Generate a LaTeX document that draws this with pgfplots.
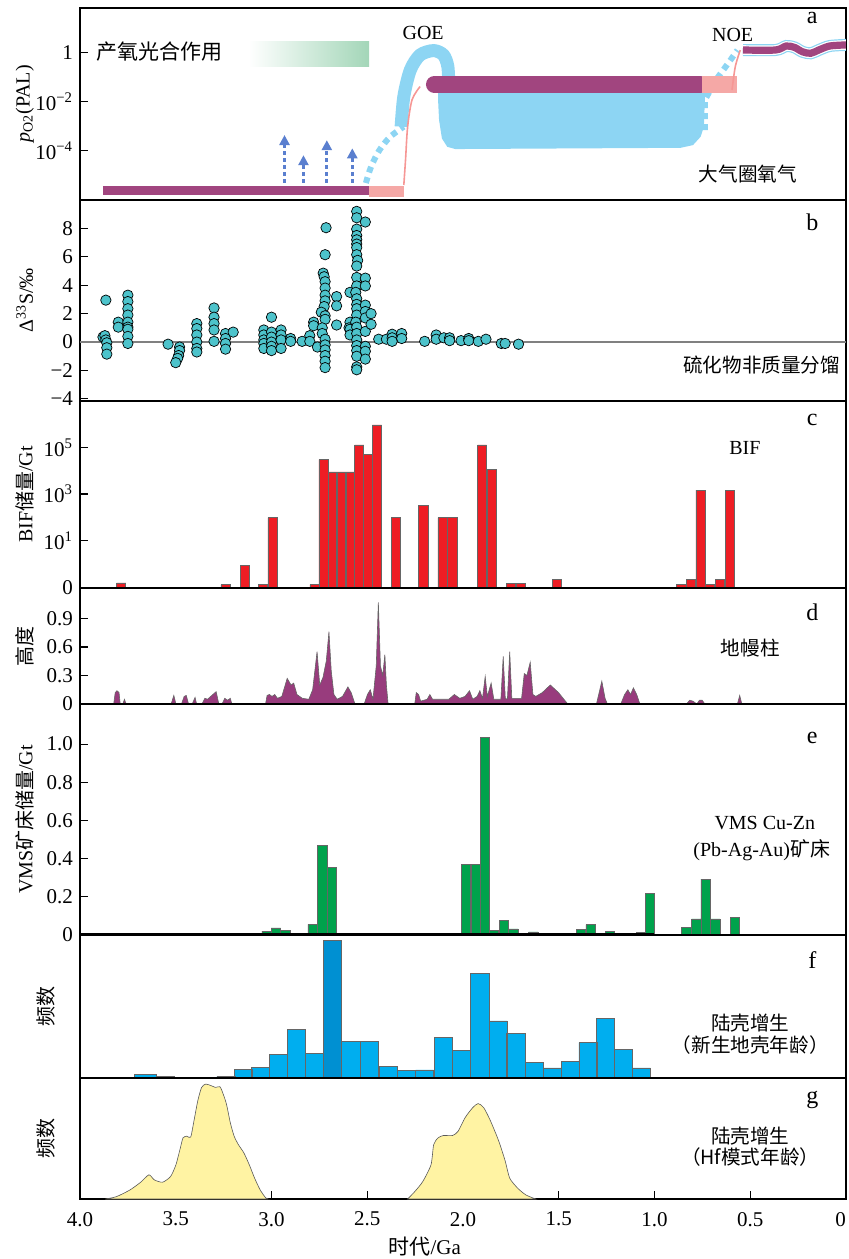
\documentclass[border=0pt]{standalone}
\usepackage{fontspec}
\setmainfont{Liberation Serif}
\newfontfamily\cjk{Noto Sans CJK SC}
\usepackage{pgfplots}
\pgfplotsset{compat=1.18}
\usetikzlibrary{arrows.meta}
\definecolor{plum}{HTML}{A1457F}
\definecolor{plumd}{HTML}{983C7D}
\definecolor{pinkbox}{HTML}{F5A8A6}
\definecolor{skyb}{HTML}{8DD5F3}
\definecolor{arrowb}{HTML}{5A7FCF}
\definecolor{photo}{HTML}{A3D6B8}
\definecolor{scat}{HTML}{4DC3CB}
\definecolor{bifred}{HTML}{EE1D24}
\definecolor{vmsg}{HTML}{00A24C}
\definecolor{histb}{HTML}{00AEEF}
\definecolor{histd}{HTML}{0090D2}
\definecolor{kde}{HTML}{FFF3A3}
\newcommand{\fs}[1]{\fontsize{#1}{#1}\selectfont}
\tikzset{
  lab/.style={font=\fs{12}, anchor=center},
  txt/.style={font=\fs{10}, anchor=center},
  ctxt/.style={font=\cjk\fs{9.8}, anchor=center},
}
\pgfplotsset{
  panel/.style={
    scale only axis, width=383pt, anchor=north west,
    xmin=0, xmax=4, x dir=reverse,
    axis line style={line width=1pt},
    every tick/.style={black, line width=0.6pt},
    xtick=\empty,
    ytick pos=left, tick align=inside, major tick length=4pt,
    tick label style={font=\fs{10.5}},
    ylabel style={font=\fs{10.5}},
    every axis y label/.style={at={(axis description cs:-0.072,0.5)}, rotate=90, anchor=center},
    clip=true,
  },
}
\begin{document}
\begin{tikzpicture}
\path[use as bounding box] (0,0) rectangle (424pt,-629.5pt);
% ---------------- panel a
\begin{axis}[panel, at={(40pt,-4pt)}, height=96pt, ymin=-6, ymax=1.8,
  ytick={-4,-2,0}, yticklabels={10\textsuperscript{−4},10\textsuperscript{−2},1},
  ylabel={\textit{p}\textsubscript{O2}(PAL)}]
\addplot[draw=none, left color=white, right color=photo] coordinates {(3.12,0.45) (2.49,0.45) (2.49,-0.57) (3.12,-0.57)} -- cycle;
\addplot[skyb, draw=none, fill=skyb] coordinates {(2.130,-1.46) (0.737,-1.46) (0.737,-1.94) (0.742,-3.02) (0.759,-3.43) (0.799,-3.77) (0.864,-3.88) (2.040,-3.93) (2.082,-3.84) (2.110,-3.50) (2.125,-2.75) (2.130,-1.94)} -- cycle;
\addplot[skyb, line width=6.5pt, smooth] coordinates {(2.323,-3.02) (2.309,-1.80) (2.275,-0.72) (2.224,-0.11) (2.153,0.07) (2.102,-0.11) (2.079,-0.58) (2.074,-1.40)};
\addplot[skyb, line width=3pt, dash pattern=on 3pt off 2.5pt, smooth] coordinates {(2.507,-5.31) (2.479,-4.63) (2.436,-3.97) (2.380,-3.43) (2.309,-3.02)};
\addplot[skyb, line width=3pt, dash pattern=on 3pt off 2.5pt] coordinates {(0.737,-3.16) (0.737,-1.94) (0.680,-1.13) (0.609,-0.38) (0.567,0.09)};
\addplot[plum, line width=4.7pt] coordinates {(3.88,-5.62) (2.49,-5.62)};
\addplot[fill=pinkbox, draw=none] coordinates {(2.49,-5.43) (2.31,-5.43) (2.31,-5.87) (2.49,-5.87)} -- cycle;
\addplot[pinkbox!90!red, line width=0.8pt, smooth] coordinates {(2.309,-5.39) (2.300,-4.37) (2.289,-3.02) (2.266,-1.93) (2.224,-1.39)};
\addplot[plum, line width=8.3pt, line cap=round] coordinates {(2.15,-1.30) (0.76,-1.30)};
\addplot[fill=pinkbox, draw=none] coordinates {(0.751,-0.96) (0.567,-0.96) (0.567,-1.64) (0.751,-1.64)} -- cycle;
\addplot[pinkbox!90!red, line width=0.8pt, smooth] coordinates {(0.595,-1.53) (0.578,-0.58) (0.552,0.09)};
\addplot[skyb, line width=6pt, smooth] coordinates {(0.538,0.094) (0.368,0.094) (0.312,0.256) (0.269,0.20) (0.227,0.02) (0.184,-0.04) (0.142,0.094) (0.085,0.256) (0,0.30)};
\addplot[white, line width=4.8pt, smooth] coordinates {(0.538,0.094) (0.368,0.094) (0.312,0.256) (0.269,0.20) (0.227,0.02) (0.184,-0.04) (0.142,0.094) (0.085,0.256) (0,0.30)};
\addplot[plum, line width=3.6pt, smooth] coordinates {(0.538,0.094) (0.368,0.094) (0.312,0.256) (0.269,0.20) (0.227,0.02) (0.184,-0.04) (0.142,0.094) (0.085,0.256) (0,0.30)};
\addplot[arrowb, line width=1.4pt, dash pattern=on 2pt off 1.5pt, -{Triangle[length=5pt,width=5pt]}] coordinates {(2.932,-5.30) (2.932,-3.36)};
\addplot[arrowb, line width=1.4pt, dash pattern=on 2pt off 1.5pt, -{Triangle[length=5pt,width=5pt]}] coordinates {(2.833,-5.30) (2.833,-4.18)};
\addplot[arrowb, line width=1.4pt, dash pattern=on 2pt off 1.5pt, -{Triangle[length=5pt,width=5pt]}] coordinates {(2.711,-5.30) (2.711,-3.57)};
\addplot[arrowb, line width=1.4pt, dash pattern=on 2pt off 1.5pt, -{Triangle[length=5pt,width=5pt]}] coordinates {(2.578,-5.30) (2.578,-3.90)};
\node[font=\cjk\fs{10.5}] at (axis description cs:0.104,0.771) {产氧光合作用};
\node[txt] at (axis description cs:0.448,0.87) {GOE};
\node[txt] at (axis description cs:0.852,0.859) {NOE};
\node[lab] at (axis description cs:0.956,0.948) {a};
\node[ctxt] at (axis description cs:0.872,0.135) {大气圈氧气};
\end{axis}
% ---------------- panel b
\begin{axis}[panel, at={(40pt,-100pt)}, height=100.5pt, ymin=-4.15, ymax=10,
  ytick={-4,-2,0,2,4,6,8}, yticklabels={−4,−2,0,2,4,6,8},
  ylabel={Δ\textsuperscript{33}S/‰}]
\addplot[gray, line width=0.8pt] coordinates {(0,0) (4,0)};
\addplot[only marks, mark=*, mark size=2.6pt, mark options={fill=scat, draw=black, line width=0.35pt}] coordinates {
(3.88,0.35) (3.87,0.45) (3.865,0.15) (3.86,-0.05) (3.86,-0.4) (3.86,-0.85) (3.865,2.95)
(3.80,1.4) (3.80,1.05)
(3.75,3.3) (3.75,2.85) (3.75,2.35) (3.75,1.9) (3.75,1.4) (3.75,1.05) (3.75,0.9) (3.75,0.4) (3.75,-0.1)
(3.54,-0.15)
(3.48,-0.35) (3.48,-0.6) (3.485,-0.95) (3.49,-1.15) (3.50,-1.45)
(3.39,1.3) (3.39,0.95) (3.39,0.5) (3.39,0) (3.39,-0.45) (3.39,-0.7)
(3.30,2.4) (3.30,1.75) (3.30,1.3) (3.30,0.85) (3.30,0.05)
(3.24,0.6) (3.24,0.25) (3.24,-0.1) (3.24,-0.5)
(3.20,0.7)
(3.04,0.85) (3.04,0.5) (3.04,0.15) (3.04,-0.1) (3.04,-0.45)
(3.00,1.75) (3.00,0.7) (3.00,0.35) (3.00,0) (3.00,-0.3) (3.00,-0.6)
(2.95,0.85) (2.95,0.5) (2.95,0.15) (2.95,-0.45)
(2.90,0.25) (2.90,0.05)
(2.84,0.05)
(2.80,0.45) (2.80,0.05)
(2.78,1.4) (2.78,1.15)
(2.76,-0.35)
(2.715,8.05) (2.72,6.15) (2.73,4.85) (2.725,4.6) (2.72,4.25) (2.72,3.8) (2.72,3.3) (2.72,2.9) (2.725,2.5) (2.74,2.1) (2.72,1.85) (2.72,1.6) (2.735,1.0) (2.735,0.6) (2.72,0.2) (2.72,-0.2) (2.72,-0.55) (2.72,-0.95) (2.72,-1.35) (2.72,-1.8)
(2.66,3.2) (2.66,2.55) (2.66,1.2)
(2.59,3.5) (2.59,1.4) (2.595,1.0) (2.59,0.9) (2.59,0.5)
(2.555,9.2) (2.555,8.75) (2.555,7.95) (2.555,7.5) (2.555,7.2) (2.555,6.9) (2.555,6.65) (2.555,6.15) (2.55,5.75) (2.555,5.35) (2.555,4.55) (2.555,3.95) (2.56,3.5) (2.555,3.05) (2.555,2.65) (2.555,2.35) (2.555,1.9) (2.56,1.4) (2.555,1.05) (2.555,0.6) (2.555,0.15) (2.555,-0.25) (2.555,-0.6) (2.555,-1.0) (2.555,-1.75) (2.555,-1.95)
(2.51,8.45) (2.51,4.5) (2.51,3.95) (2.51,2.6) (2.51,2.15) (2.51,1.7) (2.51,0.75) (2.51,-0.3) (2.51,-0.65) (2.51,-1.2)
(2.48,2.0) (2.48,1.25)
(2.44,0.2) (2.40,0.2) (2.37,0.55) (2.37,0.3) (2.37,0.05) (2.32,0.6) (2.32,0.25)
(2.20,0.05) (2.14,0.5) (2.14,0.2) (2.10,0.3) (2.07,0.3) (2.07,0.1) (2.01,0.1) (1.97,0.25) (1.97,0.1) (1.92,0.05) (1.88,0.2) (1.80,-0.1) (1.78,-0.1) (1.71,-0.15)
};
\node[lab] at (axis description cs:0.956,0.89) {b};
\node[ctxt] at (axis description cs:0.89,0.179) {硫化物非质量分馏};
\end{axis}
% ---------------- panel c
\begin{axis}[panel, at={(40pt,-200.5pt)}, height=93.5pt, ymin=0, ymax=8.04,
  ytick={0,2.04,4.04,6.04}, yticklabels={0,10\textsuperscript{1},10\textsuperscript{3},10\textsuperscript{5}},
  ylabel={BIF{\cjk 储量}/Gt}]
\addplot[ybar, bar width=0.048, fill=bifred, draw=gray!80!black, line width=0.3pt] coordinates {
(3.785,0.22) (3.24,0.15) (3.14,0.98) (3.045,0.15) (2.995,3.03) (2.775,0.15)
(2.728,5.52) (2.681,4.99) (2.635,4.99) (2.589,4.99) (2.542,6.15) (2.496,5.75) (2.449,7.01)
(2.35,3.03) (2.207,3.56) (2.107,3.03) (2.056,3.03) (1.90,6.15) (1.85,5.09)
(1.75,0.19) (1.70,0.19) (1.51,0.38)
(0.86,0.15) (0.81,0.38) (0.76,4.21) (0.71,0.15) (0.66,0.38) (0.605,4.21)
};
\node[lab] at (axis description cs:0.956,0.9) {c};
\node[txt] at (axis description cs:0.868,0.749) {BIF};
\end{axis}
% ---------------- panel d
\begin{axis}[panel, at={(40pt,-294pt)}, height=58pt, ymin=0, ymax=1.22,
  ytick={0,0.3,0.6,0.9}, yticklabels={0,0.3,0.6,0.9},
  ylabel={\cjk 高度}]
\addplot[fill=plumd, draw=black!60, line width=0.3pt] coordinates {
(3.853,0) (3.824,0) (3.816,0.12) (3.807,0.14) (3.796,0.12) (3.790,0) (3.776,0) (3.768,0.05) (3.759,0)
(3.524,0) (3.510,0.09) (3.499,0) (3.470,0) (3.456,0.08) (3.445,0.09) (3.433,0) (3.414,0) (3.399,0.07) (3.391,0)
(3.363,0) (3.348,0.06) (3.334,0.05) (3.306,0.10) (3.289,0.13) (3.275,0) (3.258,0) (3.244,0.06) (3.229,0.04) (3.215,0.06) (3.207,0)
(3.031,0) (3.023,0.09) (3.011,0.10) (2.997,0.08) (2.983,0.10) (2.969,0.06) (2.946,0.08) (2.918,0.27) (2.898,0.20) (2.884,0.22) (2.867,0.10) (2.839,0.06) (2.805,0.05) (2.785,0.15) (2.762,0.55) (2.748,0.20) (2.731,0.28) (2.714,0.45) (2.700,0.76) (2.688,0.35) (2.674,0.10) (2.657,0.05) (2.629,0.08) (2.601,0.18) (2.584,0.12) (2.564,0)
(2.516,0) (2.499,0.10) (2.484,0.15) (2.470,0.05) (2.453,0.40) (2.442,1.07) (2.431,0.40) (2.419,0.30) (2.408,0.52) (2.400,0.20) (2.391,0)
(2.252,0) (2.244,0.12) (2.232,0.10) (2.221,0.03) (2.187,0.05) (2.173,0.10) (2.159,0.05) (2.074,0.05) (2.045,0.10) (2.017,0.06) (1.989,0.08) (1.966,0.14) (1.949,0.05) (1.926,0.08) (1.912,0.14) (1.898,0.06) (1.884,0.29) (1.873,0.08) (1.853,0.22) (1.839,0.05) (1.802,0.05) (1.790,0.50) (1.779,0.06) (1.768,0.05) (1.756,0.55) (1.745,0.06) (1.694,0.06) (1.680,0.32) (1.666,0.30) (1.649,0.44) (1.635,0.10) (1.620,0.08) (1.586,0.12) (1.544,0.20) (1.501,0.12) (1.453,0)
(1.303,0) (1.275,0.24) (1.258,0.06) (1.246,0) (1.176,0) (1.156,0.10) (1.139,0.15) (1.125,0.10) (1.110,0.17) (1.093,0.10) (1.076,0)
(0.833,0) (0.816,0.04) (0.799,0.03) (0.779,0) (0.765,0.04) (0.751,0.04) (0.737,0)
(0.567,0) (0.555,0.09) (0.544,0)
} \closedcycle;
\node[lab] at (axis description cs:0.956,0.793) {d};
\node[ctxt] at (axis description cs:0.875,0.483) {地幔柱};
\end{axis}
% ---------------- panel e
\begin{axis}[panel, at={(40pt,-352pt)}, height=115.5pt, ymin=0, ymax=1.21,
  ytick={0,0.2,0.4,0.6,0.8,1.0}, yticklabels={0,0.2,0.4,0.6,0.8,1.0},
  ylabel={VMS{\cjk 矿床储量}/Gt}]
\addplot[ybar, bar width=0.049, fill=vmsg, draw=gray!80!black, line width=0.3pt] coordinates {
(3.232,0.01) (3.026,0.02) (2.977,0.037) (2.928,0.026) (2.785,0.056) (2.735,0.468) (2.684,0.356)
(1.983,0.368) (1.935,0.37) (1.886,1.035) (1.838,0.023) (1.787,0.077) (1.737,0.032) (1.633,0.016)
(1.384,0.03) (1.334,0.054) (1.233,0.018) (1.072,0.014) (1.023,0.218)
(0.833,0.04) (0.782,0.084) (0.733,0.293) (0.683,0.084) (0.58,0.093)
};
\addplot[black, line width=1.6pt] coordinates {(4,0) (1.0,0)};
\node[lab] at (axis description cs:0.956,0.853) {e};
\node[txt] at (axis description cs:0.894,0.485) {VMS Cu-Zn};
\node[txt] at (axis description cs:0.89,0.368) {(Pb-Ag-Au){\cjk 矿床}};
\end{axis}
% ---------------- panel f
\begin{axis}[panel, at={(40pt,-467.5pt)}, height=71.5pt, ymin=0, ymax=425, ytick=\empty,
  every axis y label/.style={at={(axis description cs:-0.045,0.5)}, rotate=90, anchor=center},
  ylabel={\cjk 频数}]
\addplot[ybar, bar width=0.113, fill=histb, draw=gray!80!black, line width=0.3pt] coordinates {(3.660,10)};
\addplot[ybar, bar width=0.0945, fill=histb, draw=gray!80!black, line width=0.3pt] coordinates {
(3.555,6) (3.238,6) (3.147,25) (3.057,32) (2.965,70) (2.871,144) (2.778,73)
(2.586,110) (2.490,110) (2.392,35) (2.295,22) (2.200,24) (2.103,120) (2.007,82) (1.912,310) (1.817,170) (1.724,132) (1.629,46) (1.534,30) (1.440,50) (1.348,105) (1.256,177) (1.163,85) (1.069,30)
};
\addplot[ybar, bar width=0.0945, fill=histd, draw=gray!80!black, line width=0.3pt] coordinates {(2.683,410)};
\node[lab] at (axis description cs:0.956,0.825) {f};
\node[ctxt] at (axis description cs:0.875,0.385) {陆壳增生};
\node[ctxt] at (axis description cs:0.875,0.23) {（新生地壳年龄）};
\end{axis}
% ---------------- panel g
\begin{axis}[panel, at={(40pt,-539pt)}, height=60.5pt, ymin=0, ymax=360, ytick=\empty,
  xtick={0,0.5,1,1.5,2,2.5,3,3.5,4}, xticklabels={\makebox[0pt][r]{0},0.5,1.0,1.5,2.0,2.5,3.0,3.5,4.0},
  xtick pos=bottom, xticklabel style={yshift=-3pt},
  every axis y label/.style={at={(axis description cs:-0.045,0.5)}, rotate=90, anchor=center},
  ylabel={\cjk 频数},
  every axis x label/.style={at={(axis description cs:0.45,0)}, anchor=center, yshift=-24pt},
  xlabel style={font=\fs{10.5}},
  xlabel={{\cjk 时代}/Ga}]
\addplot[fill=kde, draw=gray!70!black, line width=0.3pt, smooth, tension=0.4] coordinates {
(3.867,0) (3.810,7) (3.739,27) (3.683,50) (3.640,72) (3.612,57) (3.569,50) (3.527,67) (3.499,102) (3.476,152) (3.462,182) (3.442,187) (3.422,184) (3.405,232) (3.385,292) (3.365,332) (3.343,342) (3.314,337) (3.292,332) (3.269,334) (3.252,312) (3.235,282) (3.215,227) (3.195,187) (3.173,162) (3.144,137) (3.116,102) (3.088,62) (3.059,27) (3.031,4) (3.017,0)
} \closedcycle;
\addplot[fill=kde, draw=gray!70!black, line width=0.3pt, smooth, tension=0.4] coordinates {
(2.289,0) (2.252,22) (2.210,52) (2.167,102) (2.153,162) (2.130,182) (2.102,189) (2.054,189) (2.025,202) (1.989,242) (1.949,272) (1.921,284) (1.892,272) (1.856,232) (1.813,172) (1.779,112) (1.756,62) (1.714,32) (1.671,12) (1.620,0)
} \closedcycle;
\node[lab] at (axis description cs:0.956,0.818) {g};
\node[ctxt] at (axis description cs:0.875,0.52) {陆壳增生};
\node[ctxt] at (axis description cs:0.875,0.347) {（Hf模式年龄）};
\end{axis}
\end{tikzpicture}
\end{document}
